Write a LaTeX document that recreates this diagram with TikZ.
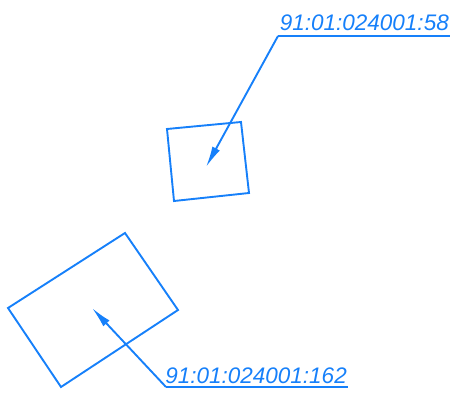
\documentclass[tikz,border=0pt]{standalone}
\usepackage{fontspec}
\setmainfont{Liberation Sans}
\usepackage{tikz}
\usetikzlibrary{arrows.meta}
\definecolor{cadblue}{RGB}{22,128,250}

\begin{document}
\begin{tikzpicture}[x=1pt,y=-1pt]

	\tikzset{parcel/.style = {draw=cadblue,line width=1.9pt,line join=miter}}
	\tikzset{leader/.style = {draw=cadblue,line width=1.9pt,-{Latex[length=21pt,width=8.5pt]}}}
	\tikzset{underline/.style = {draw=cadblue,line width=1.9pt}}
	\tikzset{tag/.style = {text=cadblue,font=\itshape\fontsize{22.5}{24}\selectfont,inner sep=0pt,anchor=base east}}

	\useasboundingbox (0,0) rectangle (450,398);

	% parcels
	\draw[parcel] (167,129) -- (241,122) -- (249,193) -- (174,201) -- cycle;
	\draw[parcel] (8,308) -- (125,233) -- (178,310) -- (61,387) -- cycle;

	% label 58
	\node[tag] (t58) at (449,31) {91:01:024001:58};
	\coordinate (knee58) at (278,36);
	\coordinate (end58) at (450,36);
	\coordinate (tip58) at (206,167);
	\draw[underline] (knee58) -- (end58);
	\draw[leader] (knee58) -- (tip58);

	% label 162
	\node[tag] (t162) at (347,383) {91:01:024001:162};
	\coordinate (knee162) at (166,387);
	\coordinate (end162) at (348,387);
	\coordinate (tip162) at (92,308);
	\draw[underline] (knee162) -- (end162);
	\draw[leader] (knee162) -- (tip162);

\end{tikzpicture}
\end{document}
